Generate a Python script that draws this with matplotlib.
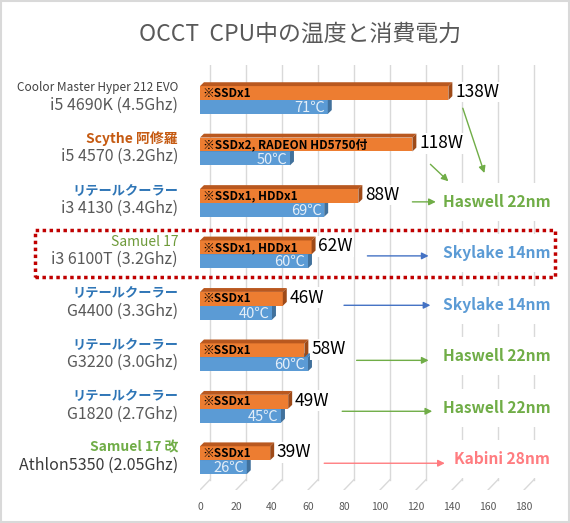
import matplotlib
matplotlib.use('Agg')
import matplotlib.pyplot as plt
from matplotlib.patches import Polygon, Rectangle
import matplotlib.transforms as mtransforms
import numpy as np

plt.rcParams['font.family'] = ['Noto Sans CJK JP', 'DejaVu Sans']

# data
coolers = ['Coolor Master Hyper 212 EVO', 'Scythe 阿修羅', 'リテールクーラー', 'Samuel 17',
           'リテールクーラー', 'リテールクーラー', 'リテールクーラー', 'Samuel 17 改']
cpus = ['i5 4690K (4.5Ghz)', 'i5 4570 (3.2Ghz)', 'i3 4130 (3.4Ghz)', 'i3 6100T (3.2Ghz)',
        'G4400 (3.3Ghz)', 'G3220 (3.0Ghz)', 'G1820 (2.7Ghz)', 'Athlon5350 (2.05Ghz)']
power = [138, 118, 88, 62, 46, 58, 49, 39]
temp = [71, 50, 69, 60, 40, 60, 45, 26]
notes = ['※SSDx1', '※SSDx2, RADEON HD5750付', '※SSDx1, HDDx1', '※SSDx1, HDDx1',
         '※SSDx1', '※SSDx1', '※SSDx1', '※SSDx1']
ticks = [0, 20, 40, 60, 80, 100, 120, 140, 160, 180]

cooler_style = [('#404040', 'normal', 8.5), ('#C55A11', 'bold', 10), ('#2E75B6', 'bold', 9.5),
                ('#6E9A3A', 'normal', 10), ('#2E75B6', 'bold', 9.5), ('#2E75B6', 'bold', 9.5),
                ('#2E75B6', 'bold', 9.5), ('#70AD47', 'bold', 10)]

fig = plt.figure(figsize=(5.70, 5.23), dpi=100)
ax = fig.add_axes([200 / 570, 1 - 490 / 523, 342 / 570, 425 / 523])
ax.set_xlim(0, 190)
ax.set_ylim(7.58, -0.68)
for s in ax.spines.values():
    s.set_visible(False)
ax.set_yticks([])
ax.set_xticks(ticks)
ax.set_xticklabels([str(t) for t in ticks], fontsize=7.5, color='#595959')
ax.tick_params(axis='x', length=0, pad=9)

# back wall gridlines + floor
shift = 5.5
for t in ticks:
    ax.plot([t + shift, t + shift], [-0.68, 7.38], color='#D9D9D9', lw=1, zorder=0)
    ax.plot([t, t + shift], [7.58, 7.38], color='#D9D9D9', lw=1, zorder=0)

y = np.arange(len(cpus))
h = 0.27
dx, dy = 2.2, 0.075


def bar3d(v, yc, front, top, side):
    y_top = yc - h / 2
    y_bot = yc + h / 2
    ax.barh(yc, v, height=h, color=front, zorder=3)
    ax.add_patch(Polygon([(0, y_top), (v, y_top), (v + dx, y_top - dy), (dx, y_top - dy)],
                         closed=True, facecolor=top, edgecolor='none', zorder=3))
    ax.add_patch(Polygon([(v, y_top), (v + dx, y_top - dy), (v + dx, y_bot - dy), (v, y_bot)],
                         closed=True, facecolor=side, edgecolor='none', zorder=3))


for i in range(len(cpus)):
    bar3d(temp[i], y[i] + h / 2, '#5B9BD5', '#4A85BC', '#41719C')
    bar3d(power[i], y[i] - h / 2, '#ED7D31', '#B9581F', '#9E4A18')
    ax.text(1.5, y[i] - h / 2, notes[i], fontsize=8.5, fontweight='bold', color='black',
            va='center', ha='left', zorder=5)
    ax.text(temp[i] - 1.5, y[i] + h / 2 + 0.02, f'{temp[i]}℃', fontsize=10.5, color='#E4EEF8',
            va='center', ha='right', zorder=5)
    ax.text(power[i] + dx + 1.5, y[i] - h / 2 - 0.02, f'{power[i]}W', fontsize=12.5, color='black',
            va='center', ha='left', zorder=5,
            bbox=dict(facecolor='white', edgecolor='none', pad=1))

# left labels
trans = mtransforms.blended_transform_factory(fig.transFigure, ax.transData)
for i in range(len(cpus)):
    c, w, fs = cooler_style[i]
    ax.text(178 / 570, y[i] - 0.24, coolers[i], transform=trans, ha='right', va='center',
            fontsize=fs, fontweight=w, color=c)
    ax.text(178 / 570, y[i] + 0.1, cpus[i], transform=trans, ha='right', va='center',
            fontsize=11.5, color='#3A3A3A' if i == 7 else '#595959')

# right side annotations
arch = [(2, 'Haswell 22nm', '#70AD47'), (3, 'Skylake 14nm', '#5B9BD5'),
        (4, 'Skylake 14nm', '#5B9BD5'), (5, 'Haswell 22nm', '#70AD47'),
        (6, 'Haswell 22nm', '#70AD47'), (7, 'Kabini 28nm', '#FF7C80')]
arrows = [((146, 0.16), (158, 1.42), '#70AD47'),
          ((128, 1.25), (138, 1.58), '#70AD47'),
          ((118, 1.98), (131, 1.98), '#70AD47'),
          ((93, 3.03), (127, 3.03), '#4472C4'),
          ((80, 3.99), (128, 3.99), '#4472C4'),
          ((87, 5.06), (127, 5.06), '#70AD47'),
          ((79, 6.05), (129, 6.05), '#70AD47'),
          ((69, 7.06), (136, 7.06), '#FF7C80')]
for row, label, col in arch:
    x0 = 141 if 'Kabini' in label else 135
    ax.text(x0, row - 0.02, label, fontsize=11.2, fontweight='bold', color=col,
            ha='left', va='center', zorder=4,
            bbox=dict(facecolor='white', edgecolor='none', pad=8))
for (x1, y1), (x2, y2), col in arrows:
    ax.annotate('', xy=(x2, y2), xytext=(x1, y1), zorder=6,
                arrowprops=dict(arrowstyle='-|>', color=col, lw=1, mutation_scale=10,
                                shrinkA=0, shrinkB=0))

fig.text(300 / 570, 1 - 34 / 523, 'OCCT  CPU中の温度と消費電力', fontsize=16.5, color='#595959',
         ha='center', va='center')

# highlight box
fig.patches.append(Rectangle((35 / 570, 1 - 277 / 523), 520 / 570, 47 / 523,
                             transform=fig.transFigure, fill=False, edgecolor='#C00000',
                             lw=2.5, linestyle=(0, (1, 1)), zorder=10))
fig.patches.append(Rectangle((0.002, 0.002), 0.996, 0.996, transform=fig.transFigure,
                             fill=False, edgecolor='#D9D9D9', lw=1.5))

fig.savefig('out.png', dpi=100)
